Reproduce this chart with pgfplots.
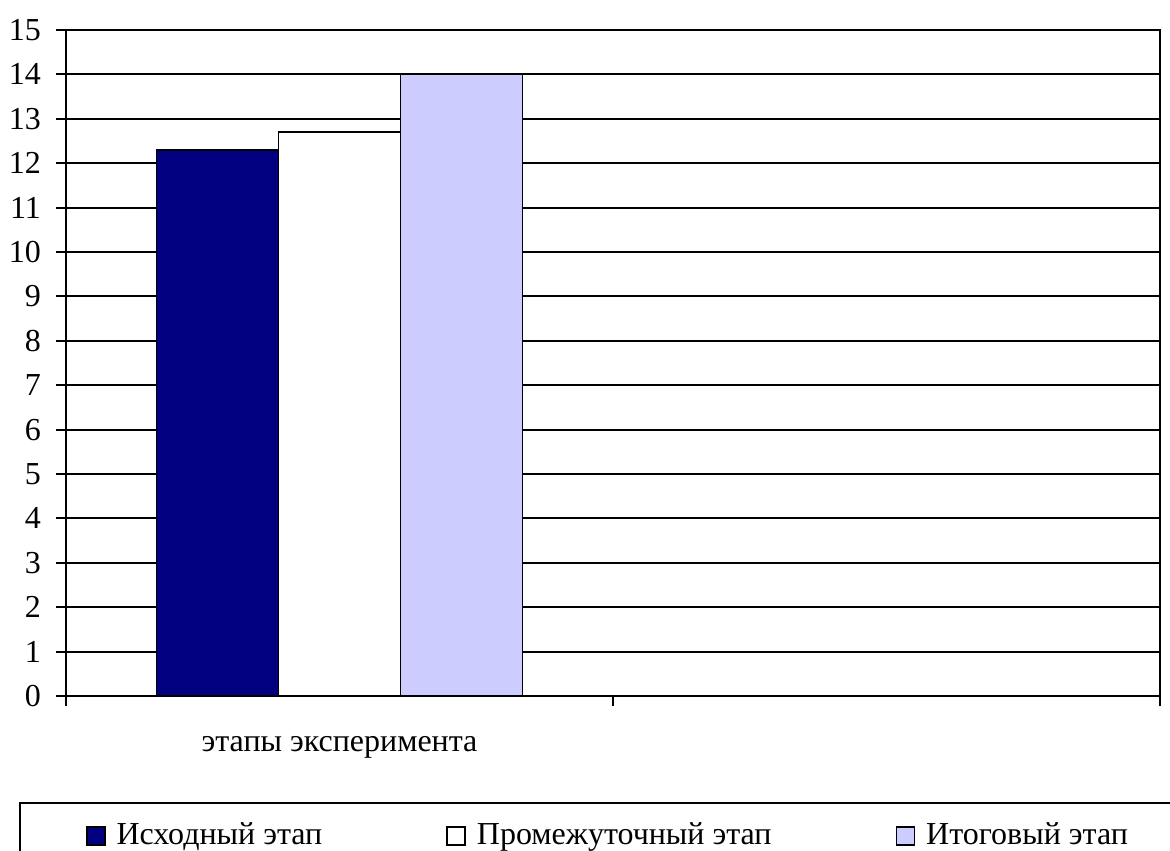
\documentclass[border=0pt]{standalone}
\usepackage{fontspec}
\setmainfont{Liberation Serif}
\usepackage{pgfplots}
\pgfplotsset{compat=1.18}
\definecolor{navybar}{RGB}{0,0,128}
\definecolor{lavbar}{RGB}{204,204,255}
\begin{document}
\fontsize{16}{19}\selectfont
\begin{tikzpicture}
\begin{axis}[
  at={(0,0)}, anchor=south west,
  scale only axis,
  width=547pt, height=333pt,
  xmin=0, xmax=2, ymin=0, ymax=15,
  ybar=0pt, bar width=61pt,
  xtick={0,1,2}, xticklabels={},
  ytick={0,1,...,15},
  tick pos=left, tick align=outside,
  major tick length=5pt,
  tick style={black, line width=1pt},
  ymajorgrids,
  grid style={black, line width=1pt},
  axis line style={black, line width=1.2pt},
  /pgf/number format/assume math mode=true,
  yticklabel style={font=\fontsize{16}{19}\selectfont, xshift=-2pt},
  xlabel={этапы эксперимента},
  every axis x label/.style={at={(axis description cs:0.25,0)}, anchor=center, yshift=-25.5pt},
  legend columns=3,
  legend style={at={(axis description cs:-0.043,-0.159)}, anchor=north west,
    draw=black, line width=1pt, inner xsep=33pt, inner ysep=8pt,
    /tikz/every odd column/.append style={column sep=3.5pt},
    /tikz/every even column/.append style={column sep=60pt},
    font=\fontsize{16}{19}\selectfont},
  legend image code/.code={\draw[#1, draw=black, line width=0.8pt] (0pt,-4.5pt) rectangle (9pt,4.5pt);},
]
\addplot[fill=navybar, draw=black, line width=0.9pt] coordinates {(0.5,12.3)};
\addplot[fill=white, draw=black, line width=0.9pt] coordinates {(0.5,12.7)};
\addplot[fill=lavbar, draw=black, line width=0.9pt] coordinates {(0.5,14.0)};
\legend{Исходный этап, Промежуточный этап, Итоговый этап}
\end{axis}
\pgfresetboundingbox
\useasboundingbox (-33pt,-77pt) rectangle (552pt,348pt);
\end{tikzpicture}
\end{document}
